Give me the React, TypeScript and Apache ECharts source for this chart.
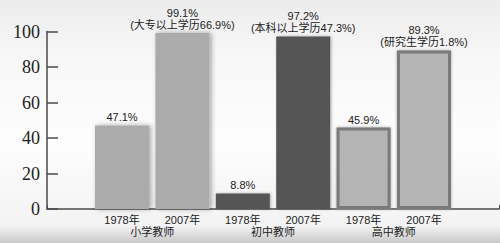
import React, { useEffect, useRef } from 'react';
import * as echarts from 'echarts';

const years = ['1978年', '2007年', '1978年', '2007年', '1978年', '2007年'];
const groups = ['小学教师', '初中教师', '高中教师'];
const values = [47.1, 99.1, 8.8, 97.2, 45.9, 89.3];
const notes = ['', '(大专以上学历66.9%)', '', '(本科以上学历47.3%)', '', '(研究生学历1.8%)'];
const yMin = 0;
const yMax = 100;
const yStep = 20;

const SANS = '"Liberation Sans", Arial, "Noto Sans CJK SC", sans-serif';

const groupStyles = [
  { color: '#ababab', shadowColor: 'rgba(0,0,0,0.35)', shadowBlur: 5, shadowOffsetX: 2 },
  { color: '#555555', shadowColor: 'rgba(0,0,0,0.3)', shadowBlur: 3, shadowOffsetX: 1 },
  { color: '#b4b4b4', borderColor: '#7a7a7a', borderWidth: 3, shadowColor: '#a0a0a0', shadowBlur: 3 },
];

export default function App() {
  const ref = useRef<HTMLDivElement>(null);
  useEffect(() => {
    if (!ref.current) return;
    const chart = echarts.init(ref.current, null, { renderer: 'svg' });
    const data = values.map((v, i) => ({
      value: v,
      itemStyle: groupStyles[Math.floor(i / 2)],
    }));
    chart.setOption({
      animation: false,
      grid: [
        { left: 47, right: 1, top: 31.5, bottom: 34 },
        { left: 91.8, right: 45.8, top: 31.5, bottom: 34 },
      ],
      xAxis: [
        {
          gridIndex: 0,
          type: 'value',
          min: 0,
          max: 1,
          interval: 1,
          axisLine: { show: true, lineStyle: { color: '#4a4a4a', width: 1.5 } },
          axisTick: { show: true, inside: true, length: 4, lineStyle: { color: '#4a4a4a' } },
          axisLabel: { show: false },
          splitLine: { show: false },
        },
        {
          gridIndex: 1,
          type: 'category',
          data: years,
          axisLine: { show: false },
          axisTick: { show: false },
          axisLabel: { fontSize: 11, color: '#222', fontFamily: SANS, margin: 5, interval: 0 },
        },
        {
          gridIndex: 1,
          type: 'category',
          position: 'bottom',
          offset: 12,
          data: groups,
          axisLine: { show: false },
          axisTick: { show: false },
          axisLabel: { fontSize: 11, color: '#222', fontFamily: SANS, margin: 5, interval: 0 },
        },
      ],
      yAxis: [
        {
          gridIndex: 0,
          type: 'value',
          min: yMin,
          max: yMax,
          interval: yStep,
          axisLine: { show: true, lineStyle: { color: '#4a4a4a', width: 1.5 } },
          axisTick: { show: true, inside: true, length: 11, lineStyle: { color: '#4a4a4a', width: 1.5 } },
          axisLabel: { fontSize: 18, color: '#222', fontFamily: '"Liberation Serif", "Times New Roman", serif', margin: 7 },
          splitLine: { show: false },
        },
        {
          gridIndex: 1,
          type: 'value',
          min: yMin,
          max: yMax,
          show: false,
        },
      ],
      series: [
        {
          type: 'bar',
          xAxisIndex: 1,
          yAxisIndex: 1,
          barWidth: 54,
          data,
          label: {
            show: true,
            position: 'top',
            distance: 2,
            fontSize: 11,
            lineHeight: 12,
            color: '#222',
            fontFamily: SANS,
            formatter: (p: any) =>
              notes[p.dataIndex] ? `${values[p.dataIndex]}%\n${notes[p.dataIndex]}` : `${values[p.dataIndex]}%`,
          },
        },
      ],
    });
    return () => chart.dispose();
  }, []);
  return (
    <div
      ref={ref}
      style={{
        position: 'fixed',
        left: 0,
        top: 0,
        width: 500,
        height: 243,
        background:
          'linear-gradient(180deg, #ececec 0%, #f8f8f8 25%, #fdfdfd 60%, #f3f3f3 93%, #c8c8c8 100%)',
      }}
    />
  );
}
